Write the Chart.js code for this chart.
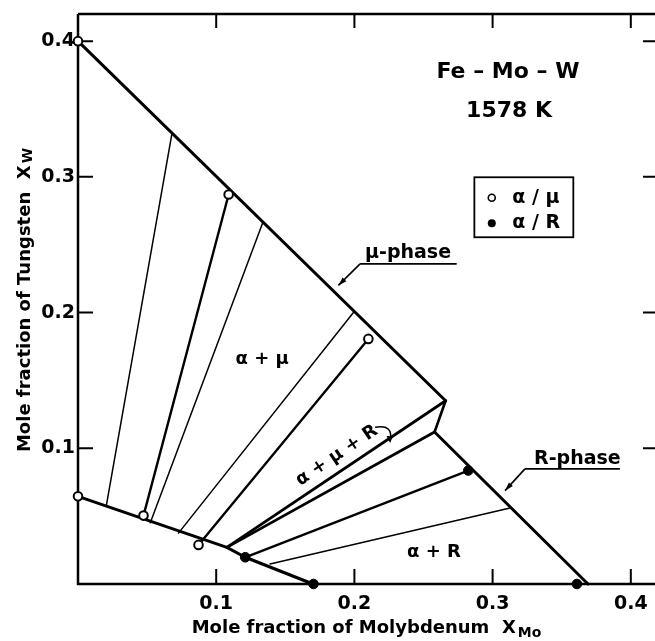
<!DOCTYPE html>
<html lang="en">
<head>
<meta charset="UTF-8">
<title>Fe-Mo-W 1578 K</title>
<script src="https://cdn.jsdelivr.net/npm/chart.js@4.4.0/dist/chart.umd.min.js"></script>
<style>
    * { margin: 0; padding: 0; }
    body { background: #fff; width: 655px; height: 641px; overflow: hidden; }
    #wrap { width: 655px; height: 641px; }
</style>
</head>
<body>
<div id="wrap"><canvas id="phaseChart" width="655" height="641"></canvas></div>
<script>
// tick labels
const xTicks = [0.1, 0.2, 0.3, 0.4];
const yTicks = [0.1, 0.2, 0.3, 0.4];

// phase boundaries, points are [X_Mo, X_W]
const muBoundary = [[0, 0.400], [0.266, 0.135]];
const muRJoin = [[0.266, 0.135], [0.258, 0.112]];
const rBoundary = [[0.258, 0.112], [0.369, 0]];
const alphaBoundary = [[0, 0.0646], [0.1077, 0.027], [0.121, 0.0197], [0.170, 0]];
const triangleTop = [[0.1077, 0.027], [0.266, 0.135]];
const triangleBottom = [[0.1077, 0.027], [0.258, 0.112]];

// tie lines drawn thin (estimated)
const tieThin = [
    [[0.0205, 0.0578], [0.068, 0.332]],
    [[0.0523, 0.0451], [0.1338, 0.2666]],
    [[0.0727, 0.0375], [0.1993, 0.200]],
    [[0.139, 0.0148], [0.3126, 0.056]]
];
// tie lines through measured points (thick)
const tieMeasured = [
    [[0.0474, 0.0504], [0.109, 0.287]],
    [[0.0872, 0.0288], [0.2101, 0.1806]],
    [[0.121, 0.0197], [0.2824, 0.0836]]
];

// measured compositions
const alphaMuPoints = [[0, 0.400], [0, 0.0646], [0.0474, 0.0504], [0.109, 0.287], [0.0872, 0.0288], [0.2101, 0.1806]];
const alphaRPoints = [[0.121, 0.0197], [0.2824, 0.0836], [0.1704, 0], [0.361, 0]];

const FONT = '"DejaVu Sans", Verdana, sans-serif';
const toXY = pts => pts.map(p => ({ x: p[0], y: p[1] }));

function lineSet(pts, width) {
    return {
        data: toXY(pts),
        showLine: true,
        borderColor: '#000',
        borderWidth: width,
        borderCapStyle: 'round',
        borderJoinStyle: 'round',
        pointRadius: 0,
        clip: false,
        order: 2
    };
}

const datasets = [
    {
        data: toXY(alphaMuPoints), pointRadius: 4.3, pointBackgroundColor: '#fff',
        pointBorderColor: '#000', pointBorderWidth: 2, showLine: false, clip: false, order: 0
    },
    {
        data: toXY(alphaRPoints), pointRadius: 4.8, pointBackgroundColor: '#000',
        pointBorderColor: '#000', pointBorderWidth: 1, showLine: false, clip: false, order: 0
    },
    lineSet(muBoundary, 3),
    lineSet(muRJoin, 2.6),
    lineSet(rBoundary, 3),
    lineSet(alphaBoundary, 3),
    lineSet(triangleTop, 2.8),
    lineSet(triangleBottom, 2.8),
    ...tieThin.map(t => lineSet(t, 1.5)),
    ...tieMeasured.map(t => lineSet(t, 2.4))
];

// axes frame with inward ticks
const framePlugin = {
    id: 'frame',
    beforeDatasetsDraw(chart) {
        const { ctx, chartArea: a, scales: { x, y } } = chart;
        ctx.save();
        ctx.strokeStyle = '#000';
        ctx.lineWidth = 2.5;
        ctx.beginPath();
        ctx.moveTo(a.left, a.top);
        ctx.lineTo(a.left, a.bottom);
        ctx.lineTo(a.right, a.bottom);
        ctx.moveTo(a.left, a.top);
        ctx.lineTo(a.right, a.top);
        ctx.stroke();
        ctx.lineWidth = 2;
        ctx.beginPath();
        xTicks.forEach(v => {
            const px = x.getPixelForValue(v);
            ctx.moveTo(px, a.bottom); ctx.lineTo(px, a.bottom - 15);
            ctx.moveTo(px, a.top); ctx.lineTo(px, a.top + 14);
        });
        yTicks.forEach(v => {
            const py = y.getPixelForValue(v);
            ctx.moveTo(a.left, py); ctx.lineTo(a.left + 15, py);
            ctx.moveTo(a.right, py); ctx.lineTo(a.right - 12, py);
        });
        ctx.stroke();
        ctx.restore();
    }
};

function arrow(ctx, x1, y1, x2, y2) {
    const ang = Math.atan2(y2 - y1, x2 - x1);
    ctx.beginPath();
    ctx.moveTo(x1, y1);
    ctx.lineTo(x2, y2);
    ctx.stroke();
    ctx.beginPath();
    ctx.moveTo(x2, y2);
    ctx.lineTo(x2 - 9 * Math.cos(ang - 0.3), y2 - 9 * Math.sin(ang - 0.3));
    ctx.lineTo(x2 - 9 * Math.cos(ang + 0.3), y2 - 9 * Math.sin(ang + 0.3));
    ctx.closePath();
    ctx.fill();
}

// main text followed by a subscript, returns widths
function measureSub(ctx, main, sub, size, subSize) {
    ctx.font = `bold ${size}px ${FONT}`;
    const w1 = ctx.measureText(main).width;
    ctx.font = `bold ${subSize}px ${FONT}`;
    const w2 = ctx.measureText(sub).width;
    return { w1, w2, total: w1 + w2 + 2 };
}

// labels, legend box and axis titles
const notesPlugin = {
    id: 'notes',
    afterDatasetsDraw(chart) {
        const { ctx, chartArea: a, scales: { x, y } } = chart;
        const P = (vx, vy) => [x.getPixelForValue(vx), y.getPixelForValue(vy)];
        ctx.save();
        ctx.fillStyle = '#000';
        ctx.strokeStyle = '#000';
        ctx.textBaseline = 'middle';
        ctx.textAlign = 'center';

        ctx.font = `bold 22px ${FONT}`;
        let p = P(0.3111, 0.3769);
        ctx.fillText('Fe \u2013 Mo \u2013 W', p[0], p[1]);
        p = P(0.3119, 0.3481);
        ctx.fillText('1578 K', p[0], p[1]);

        // legend box
        const b0 = P(0.2868, 0.2997), b1 = P(0.3584, 0.2555);
        ctx.lineWidth = 1.8;
        ctx.strokeRect(b0[0], b0[1], b1[0] - b0[0], b1[1] - b0[1]);
        ctx.font = `bold 19px ${FONT}`;
        ctx.textAlign = 'left';
        const m1 = P(0.2994, 0.2846), m2 = P(0.2994, 0.2658), tx = P(0.3142, 0)[0];
        ctx.lineWidth = 1.6;
        ctx.beginPath(); ctx.arc(m1[0], m1[1], 3.5, 0, Math.PI * 2); ctx.stroke();
        ctx.beginPath(); ctx.arc(m2[0], m2[1], 4, 0, Math.PI * 2); ctx.fill();
        ctx.fillText('\u03b1 / \u03bc', tx, m1[1]);
        ctx.fillText('\u03b1 / R', tx, m2[1]);

        // phase name labels with leaders
        ctx.font = `bold 19px ${FONT}`;
        ctx.textBaseline = 'alphabetic';
        ctx.lineWidth = 1.6;
        p = P(0.2077, 0.2405);
        ctx.fillText('\u03bc-phase', p[0], p[1]);
        let u0 = P(0.2041, 0.2359), u1 = P(0.274, 0.2359);
        ctx.beginPath(); ctx.moveTo(u0[0], u0[1]); ctx.lineTo(u1[0], u1[1]); ctx.stroke();
        let t = P(0.1884, 0.2200);
        arrow(ctx, u0[0], u0[1], t[0], t[1]);

        p = P(0.3300, 0.0887);
        ctx.fillText('R-phase', p[0], p[1]);
        u0 = P(0.3234, 0.0848); u1 = P(0.3921, 0.0848);
        ctx.beginPath(); ctx.moveTo(u0[0], u0[1]); ctx.lineTo(u1[0], u1[1]); ctx.stroke();
        t = P(0.3090, 0.0688);
        arrow(ctx, u0[0], u0[1], t[0], t[1]);

        // region labels
        ctx.font = `bold 18px ${FONT}`;
        ctx.textAlign = 'center';
        ctx.textBaseline = 'middle';
        p = P(0.1333, 0.1654);
        ctx.fillText('\u03b1 + \u03bc', p[0], p[1]);
        p = P(0.2576, 0.0231);
        ctx.fillText('\u03b1 + R', p[0], p[1]);
        p = P(0.1873, 0.0946);
        ctx.save();
        ctx.translate(p[0], p[1]);
        ctx.rotate(-34 * Math.PI / 180);
        ctx.fillText('\u03b1 + \u03bc + R', 0, 0);
        ctx.restore();
        // hook pointing into the three-phase triangle
        const h0 = P(0.2150, 0.1155), hc = P(0.2285, 0.1180), h1 = P(0.2258, 0.1054);
        ctx.lineWidth = 1.5;
        ctx.beginPath(); ctx.moveTo(h0[0], h0[1]); ctx.quadraticCurveTo(hc[0], hc[1], h1[0], h1[1]); ctx.stroke();
        ctx.beginPath();
        ctx.moveTo(h1[0], h1[1] + 2);
        ctx.lineTo(h1[0] - 3.5, h1[1] - 5);
        ctx.lineTo(h1[0] + 3, h1[1] - 5);
        ctx.closePath(); ctx.fill();

        // axis titles
        ctx.textAlign = 'left';
        ctx.textBaseline = 'alphabetic';
        const xMain = 'Mole fraction of Molybdenum  X';
        let s = measureSub(ctx, xMain, 'Mo', 18, 14);
        let sx = (a.left + a.right) / 2 - s.total / 2, sy = a.bottom + 49;
        ctx.font = `bold 18px ${FONT}`;
        ctx.fillText(xMain, sx, sy);
        ctx.font = `bold 14px ${FONT}`;
        ctx.fillText('Mo', sx + s.w1 + 2, sy + 4);

        const yMain = 'Mole fraction of Tungsten  X';
        s = measureSub(ctx, yMain, 'W', 18, 14);
        ctx.save();
        ctx.translate(a.left - 48, (a.top + a.bottom) / 2 + 1);
        ctx.rotate(-Math.PI / 2);
        ctx.font = `bold 18px ${FONT}`;
        ctx.fillText(yMain, -s.total / 2, 0);
        ctx.font = `bold 14px ${FONT}`;
        ctx.fillText('W', -s.total / 2 + s.w1 + 2, 2);
        ctx.restore();

        ctx.restore();
    }
};

const tickFont = { family: FONT, size: 19, weight: 'bold' };

// keep the plot box fixed: no extra label padding from the scales
function fixBox(size, key) {
    return s => {
        s[key] = size;
        s.paddingLeft = 0; s.paddingRight = 0;
        s.paddingTop = 0; s.paddingBottom = 0;
    };
}

new Chart(document.getElementById('phaseChart'), {
    type: 'scatter',
    data: { datasets },
    options: {
        responsive: false,
        animation: false,
        layout: { autoPadding: false, padding: { top: 14, right: 0, bottom: 0, left: 0 } },
        plugins: { legend: { display: false }, tooltip: { enabled: false } },
        scales: {
            x: {
                type: 'linear', min: 0, max: 0.4175,
                grid: { display: false, drawTicks: false },
                border: { display: false },
                afterBuildTicks: s => { s.ticks = xTicks.map(v => ({ value: v })); },
                afterFit: fixBox(57, 'height'),
                ticks: { callback: v => v.toFixed(1), font: tickFont, color: '#000', padding: 9, maxRotation: 0, autoSkip: false }
            },
            y: {
                type: 'linear', min: 0, max: 0.42,
                grid: { display: false, drawTicks: false },
                border: { display: false },
                afterBuildTicks: s => { s.ticks = yTicks.map(v => ({ value: v })); },
                afterFit: fixBox(78, 'width'),
                ticks: { callback: v => v.toFixed(1), font: tickFont, color: '#000', padding: 3, autoSkip: false }
            }
        }
    },
    plugins: [framePlugin, notesPlugin]
});
</script>
</body>
</html>
